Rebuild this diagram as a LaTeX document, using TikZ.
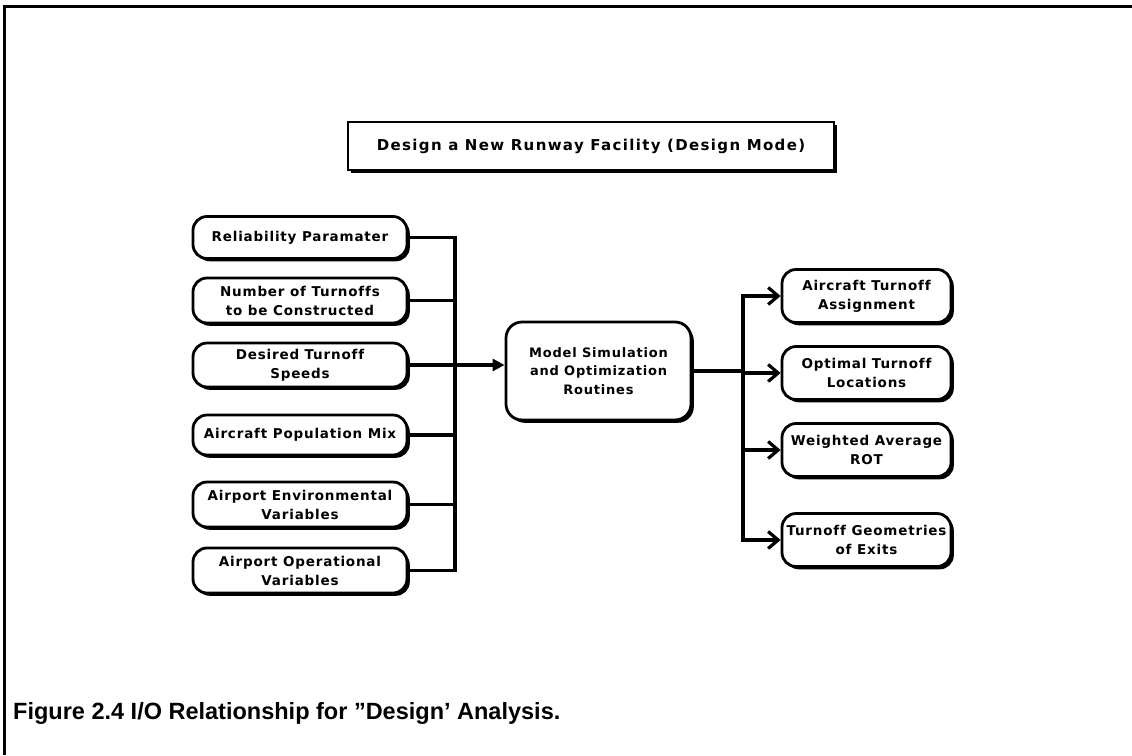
\documentclass[tikz,border=0pt]{standalone}
\usepackage{fontspec}
\setmainfont{Liberation Sans}
\newfontfamily\boxfont[LetterSpace=6,Ligatures=NoCommon]{DejaVu Sans}
\newfontfamily\headfont[LetterSpace=9,Ligatures=NoCommon]{DejaVu Sans}
\newfontfamily\capfont{Liberation Sans}
\usetikzlibrary{shadows,arrows.meta}

\tikzset{
  shade box/.style={draw, line width=2.8pt, fill=white,
    drop shadow={shadow xshift=2.8pt, shadow yshift=-2.8pt, opacity=1, fill=black},
    align=center, inner sep=0pt},
  inbox/.style={shade box, rounded corners=14pt, minimum width=214pt,
    font=\boxfont\bfseries\fontsize{13.5}{19}\selectfont},
  outbox/.style={shade box, rounded corners=14pt, minimum width=169pt, minimum height=53pt,
    font=\boxfont\bfseries\fontsize{13.5}{19}\selectfont},
  corebox/.style={shade box, rounded corners=16pt, minimum width=185pt, minimum height=98pt,
    font=\boxfont\bfseries\fontsize{13}{18.5}\selectfont},
  titlebox/.style={shade box, minimum width=486pt, minimum height=48pt,
    font=\headfont\bfseries\fontsize{15}{18}\selectfont},
  bus/.style={line width=3.4pt},
  feed/.style={line width=3.4pt, -{Triangle[length=12pt,width=12pt]}},
  fan/.style={line width=3.4pt, -{Straight Barb[length=10pt,width=17pt,line width=3.2pt]}},
}

\begin{document}
\begin{tikzpicture}[x=1pt,y=-1pt]
\useasboundingbox (0,0) rectangle (1132,755);

% page frame (top and left edges)
\draw[line width=3pt] (4,755) -- (4,6) -- (1132,6);

% heading box
\node[titlebox] (head) at (591,146) {Design a New Runway Facility (Design Mode)};

% inputs
\node[inbox, minimum height=42pt] (i1) at (300,237.5) {Reliability Paramater};
\node[inbox, minimum height=45pt] (i2) at (300,300.5) {Number of Turnoffs\\to be Constructed};
\node[inbox, minimum height=44pt] (i3) at (300,365) {Desired Turnoff\\Speeds};
\node[inbox, minimum height=40pt] (i4) at (300,435) {Aircraft Population Mix};
\node[inbox, minimum height=45pt] (i5) at (300,504.5) {Airport Environmental\\Variables};
\node[inbox, minimum height=45pt] (i6) at (300,570.5) {Airport Operational\\Variables};

% model
\node[corebox] (core) at (598.5,371) {Model Simulation\\and Optimization\\Routines};

% outputs
\node[outbox] (o1) at (866.5,296) {Aircraft Turnoff\\Assignment};
\node[outbox] (o2) at (866.5,373) {Optimal Turnoff\\Locations};
\node[outbox] (o3) at (866.5,450) {Weighted Average\\ROT};
\node[outbox] (o4) at (866.5,540) {Turnoff Geometries\\of Exits};

% input bus
\coordinate (inbus) at (455,0);
\foreach \n in {i1,i2,i3,i4,i5,i6}
  \draw[bus] (\n.east) -- (\n.east -| inbus);
\draw[bus, line cap=rect] (i1.east -| inbus) -- (i6.east -| inbus);
\draw[feed] (i3.east -| inbus) -- (i3.east -| core.west);

% output bus
\coordinate (outbus) at (743,0);
\draw[bus] (core.east) -- (core.east -| outbus);
\draw[bus, line cap=rect] (o1.west -| outbus) -- (o4.west -| outbus);
\foreach \n in {o1,o2,o3,o4}
  \draw[fan] (\n.west -| outbus) -- (\n.west);

% caption
\node[anchor=base west, inner sep=0pt, font=\capfont\bfseries\fontsize{23.5}{26}\selectfont] (cap) at (13,719)
  {Figure 2.4 I/O Relationship for ”Design’ Analysis.};
\end{tikzpicture}
\end{document}
